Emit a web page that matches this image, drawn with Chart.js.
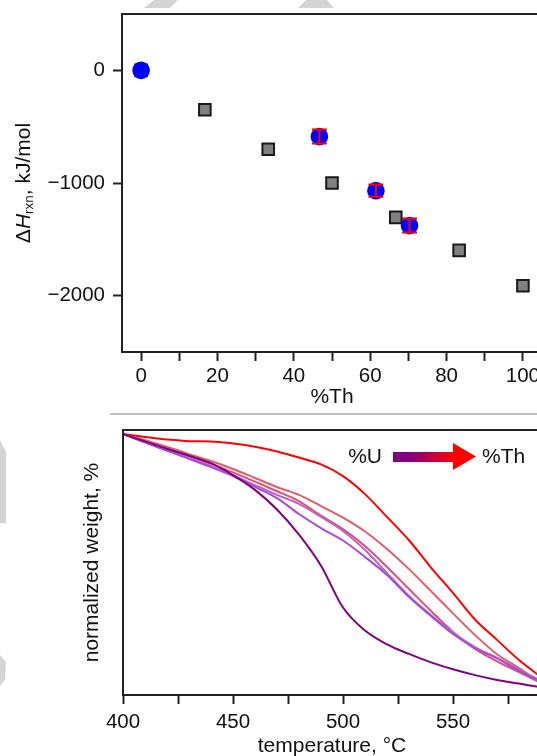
<!DOCTYPE html>
<html>
<head>
<meta charset="utf-8">
<script src="https://cdn.jsdelivr.net/npm/chart.js@4.4.0/dist/chart.umd.min.js"></script>
<style>
  html, body { margin: 0; padding: 0; background: #fff; }
  body { width: 537px; height: 756px; overflow: hidden; position: relative; }
  #top-chart { position: absolute; left: 0; top: 0; }
  #bottom-chart { position: absolute; left: 0; top: 420px; }
  #divider { position: absolute; left: 110px; top: 413px; width: 427px; height: 2px; background: #c0c0c0; }
</style>
</head>
<body>
<canvas id="top-chart" width="560" height="405"></canvas>
<div id="divider"></div>
<canvas id="bottom-chart" width="560" height="336"></canvas>
<script>
// Top panel: reaction enthalpy vs Th content
const calcTh = [0, 16.7, 33.3, 50, 66.7, 83.3, 100];
const calcH = [0, -350, -700, -1000, -1305, -1598, -1912];
const measTh = [0, 46.7, 61.5, 70.3];
const measH = [0, -588, -1068, -1378];
const measErr = [0, 62, 55, 62];
const hTicks = [0, -1000, -2000];
const thTicks = [0, 10, 20, 30, 40, 50, 60, 70, 80, 90, 100];

// Bottom panel: TGA curves, U-rich (purple) to Th-rich (red)
const temps = [400, 410, 420, 430, 440, 450, 460, 470, 480, 490, 500, 510, 520, 530, 540, 550, 560, 570, 580, 590];
const weightU = [98.5, 95.7, 92.9, 90.3, 87.5, 83.0, 77.4, 70.0, 60.5, 48.8, 33.0, 24.3, 19.1, 15.5, 12.3, 9.7, 7.5, 5.7, 4.3, 2.9];
const weightA = [98.5, 95.3, 92.1, 89.1, 86.0, 82.6, 78.5, 74.3, 68.3, 63.0, 58.3, 52.1, 45.3, 37.0, 29.8, 23.0, 17.7, 13.8, 9.1, 5.1];
const weightB = [98.5, 95.5, 92.5, 89.4, 86.4, 83.0, 79.2, 75.5, 72.1, 67.2, 61.9, 54.7, 46.0, 37.4, 30.2, 23.6, 18.1, 14.0, 9.6, 5.3];
const weightC = [98.5, 95.7, 93.0, 90.1, 87.2, 84.0, 80.5, 76.9, 73.2, 67.7, 62.6, 56.2, 48.3, 40.0, 31.7, 23.8, 17.4, 12.7, 8.6, 4.5];
const weightD = [98.5, 96.1, 93.7, 90.9, 88.3, 85.3, 81.9, 78.5, 75.5, 71.3, 66.9, 61.7, 55.1, 47.5, 39.2, 30.8, 22.6, 15.4, 10.2, 4.5];
const weightTh = [98.5, 97.4, 96.4, 95.8, 95.7, 94.9, 93.7, 91.9, 89.6, 87.0, 82.6, 75.8, 67.2, 58.4, 48.1, 38.5, 28.5, 20.8, 13.2, 6.8];
const tgaSeries = [weightU, weightA, weightB, weightC, weightD, weightTh];
const tgaColors = ["#800080", "#a54fd6", "#b866c6", "#d9527a", "#e45c68", "#ff0000"];
const tempTicks = [400, 425, 450, 475, 500, 525, 550, 575];

const FONT = "'Liberation Sans', Arial, sans-serif";
const INK = "#111";
const tickFont = { family: FONT, size: 20.5 };
const TITLE = "21px " + FONT;

function fixedTicks(values) {
  return (scale) => { scale.ticks = values.map((v) => ({ value: v })); };
}

// keep the plot area exactly where the layout padding puts it
function noEdgePadding(scale) {
  scale.paddingTop = 0;
  scale.paddingBottom = 0;
  scale.paddingLeft = 0;
  scale.paddingRight = 0;
}

const tickGrid = { drawOnChartArea: false, tickLength: 9, tickWidth: 2, tickColor: "#222" };

// faint watermark fragments seen in the reference
function shape(ctx, pts) {
  ctx.beginPath();
  pts.forEach((p, i) => (i ? ctx.lineTo(p[0], p[1]) : ctx.moveTo(p[0], p[1])));
  ctx.closePath();
  ctx.fill();
}

// Top chart decorations: error bars, frame, axis titles
const topDecor = {
  id: "topDecor",
  beforeDraw(chart) {
    const ctx = chart.ctx;
    ctx.save();
    ctx.fillStyle = "#d4d4d4";
    shape(ctx, [[144, 8], [170, 8], [178, 0], [154, 0]]);
    shape(ctx, [[298, 8], [334, 8], [327, 0], [306, 0]]);
    ctx.restore();
  },
  afterDatasetsDraw(chart) {
    const ctx = chart.ctx, a = chart.chartArea;
    const x = chart.scales.x, y = chart.scales.y;
    ctx.save();
    ctx.strokeStyle = "#ff0000";
    ctx.lineWidth = 2;
    measTh.forEach((t, i) => {
      if (!measErr[i]) return;
      const px = x.getPixelForValue(t);
      const y1 = y.getPixelForValue(measH[i] + measErr[i]);
      const y2 = y.getPixelForValue(measH[i] - measErr[i]);
      ctx.beginPath();
      ctx.moveTo(px, y1); ctx.lineTo(px, y2);
      ctx.moveTo(px - 7.5, y1); ctx.lineTo(px + 7.5, y1);
      ctx.moveTo(px - 7.5, y2); ctx.lineTo(px + 7.5, y2);
      ctx.stroke();
    });
    ctx.strokeStyle = "#222";
    ctx.lineWidth = 2;
    ctx.strokeRect(a.left, a.top, a.right - a.left, a.bottom - a.top);
    ctx.restore();
  },
  afterDraw(chart) {
    const ctx = chart.ctx, a = chart.chartArea;
    ctx.save();
    ctx.fillStyle = INK;
    ctx.textBaseline = "middle";
    ctx.textAlign = "center";
    ctx.font = TITLE;
    ctx.fillText("%Th", (a.left + a.right) / 2, 397);

    // ΔH_rxn, kJ/mol  (rotated, with italic H and subscript)
    const parts = [
      { t: "\u0394", f: TITLE, dy: 0 },
      { t: "H", f: "italic " + TITLE, dy: 0 },
      { t: "rxn", f: "13.5px " + FONT, dy: 5 },
      { t: ", kJ/mol", f: TITLE, dy: 0 },
    ];
    let total = 0;
    parts.forEach((p) => { ctx.font = p.f; p.w = ctx.measureText(p.t).width; total += p.w; });
    ctx.translate(24, (a.top + a.bottom) / 2);
    ctx.rotate(-Math.PI / 2);
    ctx.textAlign = "left";
    let cx = -total / 2;
    parts.forEach((p) => { ctx.font = p.f; ctx.fillText(p.t, cx, p.dy); cx += p.w; });
    ctx.restore();
  },
};

new Chart(document.getElementById("top-chart"), {
  type: "scatter",
  data: {
    datasets: [
      {
        label: "measured",
        data: measTh.map((t, i) => ({ x: t, y: measH[i] })),
        pointStyle: "circle",
        pointRadius: 8.8,
        backgroundColor: "#0000ff",
        borderColor: "#0000ff",
        borderWidth: 0,
      },
      {
        label: "calculated",
        data: calcTh.map((t, i) => ({ x: t, y: calcH[i] })),
        pointStyle: "rect",
        pointRadius: 8.2,
        backgroundColor: "#808080",
        borderColor: "#1a1a1a",
        borderWidth: 2,
      },
    ],
  },
  options: {
    responsive: false,
    animation: false,
    layout: { padding: { top: 14, right: 18, left: 0, bottom: 0 } },
    plugins: { legend: { display: false }, tooltip: { enabled: false } },
    scales: {
      x: {
        type: "linear",
        min: -5,
        max: 105,
        afterBuildTicks: fixedTicks(thTicks),
        afterFit: (s) => { s.height = 53; noEdgePadding(s); },
        ticks: { callback: (v) => (v % 20 === 0 ? String(v) : ""), font: tickFont, color: INK, padding: 3, autoSkip: false, maxRotation: 0 },
        grid: tickGrid,
        border: { display: false },
      },
      y: {
        min: -2500,
        max: 500,
        afterBuildTicks: fixedTicks(hTicks),
        afterFit: (s) => { s.width = 122; noEdgePadding(s); },
        ticks: { callback: (v) => (v < 0 ? "\u2212" + Math.abs(v) : String(v)), font: tickFont, color: INK, padding: 8 },
        grid: tickGrid,
        border: { display: false },
      },
    },
  },
  plugins: [topDecor],
});

// Bottom chart decorations: composition arrow, frame, axis titles
const bottomDecor = {
  id: "bottomDecor",
  beforeDraw(chart) {
    const ctx = chart.ctx;
    ctx.save();
    ctx.fillStyle = "#d4d4d4";
    shape(ctx, [[0, 20], [6, 32], [6, 103], [0, 103]]);
    shape(ctx, [[0, 235], [6, 242], [5, 260], [0, 266]]);
    ctx.restore();
  },
  afterDatasetsDraw(chart) {
    const ctx = chart.ctx, a = chart.chartArea;
    ctx.save();
    ctx.strokeStyle = "#222";
    ctx.lineWidth = 2;
    ctx.strokeRect(a.left, a.top, a.right - a.left, a.bottom - a.top);

    // %U ──► %Th arrow
    ctx.fillStyle = INK;
    ctx.font = TITLE;
    ctx.textBaseline = "middle";
    ctx.textAlign = "right";
    ctx.fillText("%U", 382, 37);
    ctx.textAlign = "left";
    ctx.fillText("%Th", 482, 37);
    const grad = ctx.createLinearGradient(393, 0, 455, 0);
    grad.addColorStop(0, tgaColors[0]);
    grad.addColorStop(0.25, tgaColors[0]);
    grad.addColorStop(1, tgaColors[5]);
    ctx.fillStyle = grad;
    ctx.fillRect(393, 32, 61, 10);
    ctx.fillStyle = tgaColors[5];
    shape(ctx, [[453, 23], [476, 36.5], [453, 50]]);
    ctx.restore();
  },
  afterDraw(chart) {
    const ctx = chart.ctx, a = chart.chartArea;
    ctx.save();
    ctx.fillStyle = INK;
    ctx.font = TITLE;
    ctx.textBaseline = "middle";
    ctx.textAlign = "center";
    ctx.fillText("temperature, \u00B0C", (a.left + a.right) / 2, 326);
    ctx.translate(92, (a.top + a.bottom) / 2);
    ctx.rotate(-Math.PI / 2);
    ctx.fillText("normalized weight, %", 0, 0);
    ctx.restore();
  },
};

new Chart(document.getElementById("bottom-chart"), {
  type: "line",
  data: {
    datasets: tgaSeries.map((vals, k) => ({
      data: temps.map((t, i) => ({ x: t, y: vals[i] })),
      borderColor: tgaColors[k],
      borderWidth: 2,
      pointRadius: 0,
      fill: false,
      cubicInterpolationMode: "monotone",
    })),
  },
  options: {
    responsive: false,
    animation: false,
    layout: { padding: { top: 10, right: 19, left: 0, bottom: 0 } },
    plugins: { legend: { display: false }, tooltip: { enabled: false } },
    scales: {
      x: {
        type: "linear",
        min: 400,
        max: 590,
        afterBuildTicks: fixedTicks(tempTicks),
        afterFit: (s) => { s.height = 61; noEdgePadding(s); },
        ticks: { callback: (v) => (v % 50 === 0 ? String(v) : ""), font: tickFont, color: INK, padding: 6, autoSkip: false, maxRotation: 0 },
        grid: tickGrid,
        border: { display: false },
      },
      y: {
        min: 0,
        max: 100,
        afterFit: (s) => { s.width = 123; noEdgePadding(s); },
        ticks: { display: false },
        grid: { display: false },
        border: { display: false },
      },
    },
  },
  plugins: [bottomDecor],
});
</script>
</body>
</html>
